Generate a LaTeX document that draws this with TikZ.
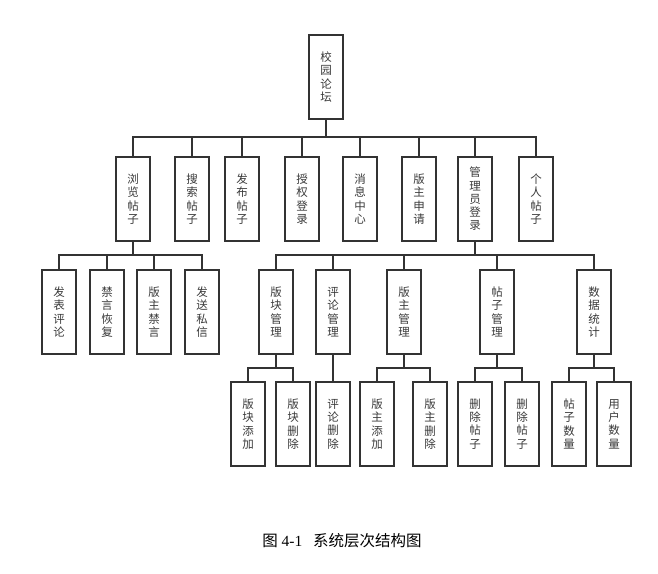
\documentclass[tikz,border=0pt]{standalone}
\usepackage{fontspec}
\setmainfont{Liberation Serif}
\newfontfamily\cjk{Noto Sans CJK SC}
\definecolor{linec}{HTML}{333333}
\definecolor{textc}{HTML}{3A3A3A}
\begin{document}
\begin{tikzpicture}[x=1pt,y=-1pt,
  box/.style={draw=linec,line width=2pt,fill=white,minimum width=34pt,minimum height=84pt,inner sep=0pt,align=center,text=textc,font=\cjk\fontsize{11.5}{13.3}\selectfont},
  conn/.style={draw=linec,line width=2pt}]
\useasboundingbox (0,0) rectangle (658,573);
% root
\node[box] (root) at (326,77) {校\\园\\论\\坛};
% level 1
\node[box] (a1) at (133,199) {浏\\览\\帖\\子};
\node[box] (a2) at (192,199) {搜\\索\\帖\\子};
\node[box] (a3) at (242,199) {发\\布\\帖\\子};
\node[box] (a4) at (302,199) {授\\权\\登\\录};
\node[box] (a5) at (360,199) {消\\息\\中\\心};
\node[box] (a6) at (419,199) {版\\主\\申\\请};
\node[box] (a7) at (475,199) {管\\理\\员\\登\\录};
\node[box] (a8) at (536,199) {个\\人\\帖\\子};
% level 2 under a1
\node[box] (b1) at (59,312) {发\\表\\评\\论};
\node[box] (b2) at (107,312) {禁\\言\\恢\\复};
\node[box] (b3) at (154,312) {版\\主\\禁\\言};
\node[box] (b4) at (202,312) {发\\送\\私\\信};
% level 2 under a7
\node[box] (c1) at (276,312) {版\\块\\管\\理};
\node[box] (c2) at (333,312) {评\\论\\管\\理};
\node[box] (c3) at (404,312) {版\\主\\管\\理};
\node[box] (c4) at (497,312) {帖\\子\\管\\理};
\node[box] (c5) at (594,312) {数\\据\\统\\计};
% level 3
\node[box] (d1) at (248,424) {版\\块\\添\\加};
\node[box] (d2) at (293,424) {版\\块\\删\\除};
\node[box] (d3) at (333,424) {评\\论\\删\\除};
\node[box] (d4) at (377,424) {版\\主\\添\\加};
\node[box] (d5) at (430,424) {版\\主\\删\\除};
\node[box] (d6) at (475,424) {删\\除\\帖\\子};
\node[box] (d7) at (522,424) {删\\除\\帖\\子};
\node[box] (d8) at (569,424) {帖\\子\\数\\量};
\node[box] (d9) at (614,424) {用\\户\\数\\量};
% bar levels
\coordinate (y1) at (0,137);
\coordinate (y2) at (0,255);
\coordinate (y3) at (0,368);
% connectors
\foreach \c in {a1,a2,a3,a4,a5,a6,a7,a8}
  \draw[conn] (root.south) -- (root.south |- y1) -| (\c.north);
\foreach \c in {b1,b2,b3,b4}
  \draw[conn] (a1.south) -- (a1.south |- y2) -| (\c.north);
\foreach \c in {c1,c2,c3,c4,c5}
  \draw[conn] (a7.south) -- (a7.south |- y2) -| (\c.north);
\foreach \c in {d1,d2}
  \draw[conn] (c1.south) -- (c1.south |- y3) -| (\c.north);
\draw[conn] (c2.south) -- (d3.north);
\foreach \c in {d4,d5}
  \draw[conn] (c3.south) -- (c3.south |- y3) -| (\c.north);
\foreach \c in {d6,d7}
  \draw[conn] (c4.south) -- (c4.south |- y3) -| (\c.north);
\foreach \c in {d8,d9}
  \draw[conn] (c5.south) -- (c5.south |- y3) -| (\c.north);
% caption
\node[font=\fontsize{15.5}{18}\selectfont,text=black] (cap) at (342,541) {{\cjk 图} 4-1\hspace{0.7em}{\cjk 系统层次结构图}};
\end{tikzpicture}
\end{document}
